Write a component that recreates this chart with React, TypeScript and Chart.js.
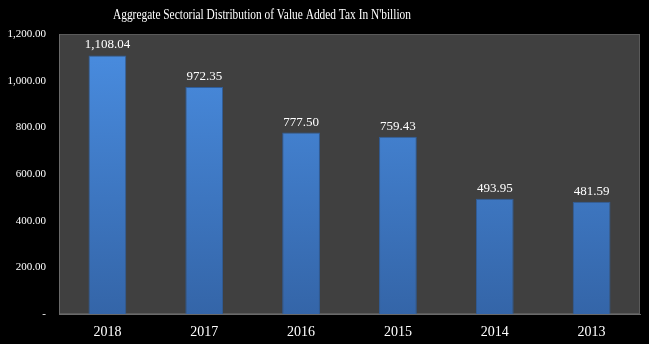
import React, { useEffect, useRef } from "react";
import { Chart, registerables } from "chart.js";

Chart.register(...registerables);

const categories = ["2018", "2017", "2016", "2015", "2014", "2013"];
const values = [1108.04, 972.35, 777.5, 759.43, 493.95, 481.59];
const valueLabels = ["1,108.04", "972.35", "777.50", "759.43", "493.95", "481.59"];
const yTickValues = [0, 200, 400, 600, 800, 1000, 1200];
const titleText = "Aggregate Sectorial Distribution of Value Added Tax In N'billion";

const FONT = "'Liberation Serif', 'DejaVu Serif', serif";

export default function App() {
  const ref = useRef<HTMLCanvasElement | null>(null);
  useEffect(() => {
    document.body.style.margin = "0";
    document.body.style.background = "#000";
    const canvas = ref.current!;
    const plugin = {
      id: "custom",
      beforeDraw(chart: any) {
        const { ctx, chartArea: a } = chart;
        ctx.save();
        ctx.fillStyle = "#000";
        ctx.fillRect(0, 0, chart.width, chart.height);
        ctx.fillStyle = "#404040";
        ctx.fillRect(a.left, a.top, a.right - a.left, a.bottom - a.top);
        ctx.strokeStyle = "#5a5a5a";
        ctx.lineWidth = 1;
        ctx.strokeRect(a.left + 0.5, a.top + 0.5, a.right - a.left - 1, a.bottom - a.top - 1);
        ctx.fillStyle = "#fff";
        ctx.font = `15px ${FONT}`;
        ctx.textAlign = "center";
        ctx.textBaseline = "middle";
        ctx.fillText(titleText, 262, 15, 298);
        ctx.restore();
      },
      afterDatasetsDraw(chart: any) {
        const { ctx } = chart;
        const meta = chart.getDatasetMeta(0);
        ctx.save();
        ctx.fillStyle = "#fff";
        ctx.font = `13px ${FONT}`;
        ctx.textAlign = "center";
        ctx.textBaseline = "bottom";
        meta.data.forEach((el: any, i: number) => {
          ctx.fillText(valueLabels[i], el.x, el.y - 4);
        });
        ctx.restore();
      },
    };
    const chart = new Chart(canvas, {
      type: "bar",
      data: {
        labels: categories,
        datasets: [
          {
            data: values,
            backgroundColor: (c: any) => {
              const ch = c.chart;
              const a = ch.chartArea;
              if (!a) return "#4080d0";
              const g = ch.ctx.createLinearGradient(0, a.top, 0, a.bottom);
              g.addColorStop(0, "#4a8ee2");
              g.addColorStop(1, "#3465a8");
              return g;
            },
            borderColor: "#2f5c98",
            borderWidth: 1,
            barPercentage: 0.39,
            categoryPercentage: 1,
          },
        ],
      },
      options: {
        responsive: false,
        animation: false,
        layout: { padding: { top: 34, right: 9, left: 0, bottom: 0 } },
        plugins: { legend: { display: false }, tooltip: { enabled: false }, title: { display: false } },
        scales: {
          x: {
            grid: { display: false, drawTicks: false },
            border: { display: true, color: "#6a6a6a" },
            ticks: { color: "#fff", font: { family: FONT, size: 14 }, padding: 10 },
            afterFit(s: any) {
              s.height = 30;
            },
          },
          y: {
            min: 0,
            max: 1200,
            grid: { display: false, drawTicks: false },
            border: { display: true, color: "#6a6a6a" },
            afterBuildTicks(s: any) {
              s.ticks = yTickValues.map((v) => ({ value: v }));
            },
            ticks: {
              color: "#fff",
              font: { family: FONT, size: 11 },
              padding: 13,
              callback: (v: any) =>
                Number(v) === 0
                  ? "-"
                  : Number(v).toLocaleString("en-US", { minimumFractionDigits: 2, maximumFractionDigits: 2 }),
            },
            afterFit(s: any) {
              s.width = 59;
            },
          },
        },
      },
      plugins: [plugin],
    });
    return () => chart.destroy();
  }, []);
  return <canvas ref={ref} width={649} height={344} style={{ display: "block" }} />;
}
